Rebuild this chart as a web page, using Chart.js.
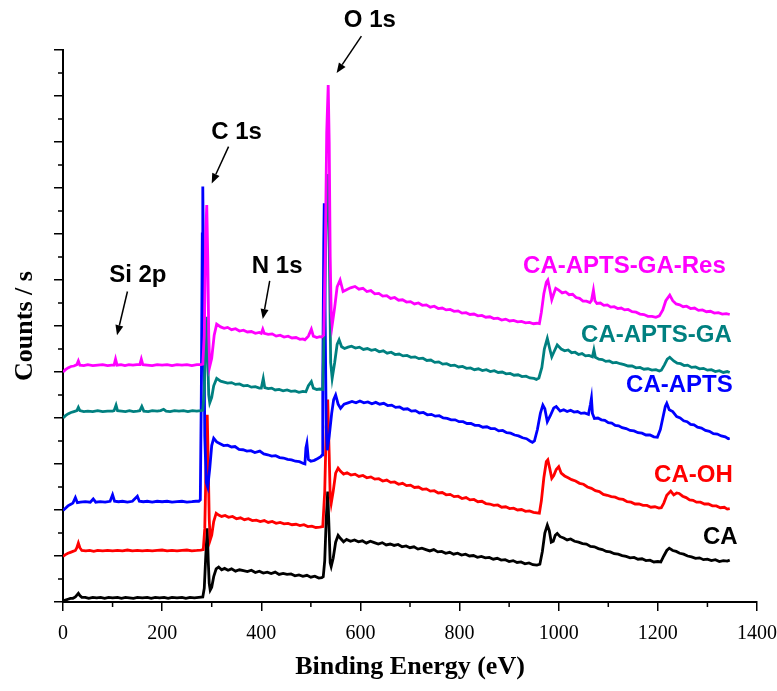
<!DOCTYPE html>
<html>
<head>
<meta charset="utf-8">
<script src="https://cdn.jsdelivr.net/npm/chart.js@4.4.1/dist/chart.umd.min.js"></script>
<style>
  html, body { margin: 0; padding: 0; background: #fff; }
  #wrap { width: 777px; height: 691px; }
</style>
</head>
<body>
<div id="wrap"><canvas id="xpsChart" width="777" height="691"></canvas></div>
<script>
// binding energy (eV), counts in arbitrary offset units (one major tick = 1)
const caData = [
  [0,0.02],[5,0.04],[10,0.06],[15,0.08],[20,0.08],[25,0.11],[28,0.15],[31,0.19],[34,0.14],[38,0.10],
  [45,0.10],[52,0.08],[60,0.10],[68,0.09],[76,0.10],[84,0.08],[92,0.10],[100,0.09],[110,0.10],[118,0.08],
  [126,0.10],[134,0.09],[142,0.08],[150,0.10],[160,0.09],[170,0.10],[178,0.08],[186,0.10],[195,0.09],
  [204,0.10],[212,0.08],[220,0.10],[230,0.09],[240,0.10],[248,0.08],[256,0.10],[265,0.09],[274,0.10],[282,0.11],
  [285,0.3],[288,1.0],[291,1.6],[293,0.9],[295,0.4],[297,0.26],[300,0.32],[304,0.55],[309,0.72],[314,0.76],
  [320,0.70],[326,0.73],[333,0.69],[340,0.72],[348,0.67],[356,0.70],[364,0.68],[372,0.66],[380,0.69],
  [388,0.64],[396,0.67],[404,0.63],[412,0.65],[420,0.62],[428,0.65],[436,0.60],[444,0.62],[452,0.60],
  [460,0.61],[468,0.57],[476,0.59],[484,0.56],[492,0.58],[500,0.54],[508,0.56],[516,0.52],[522,0.53],[525,0.55],
  [528,0.9],[531,1.8],[534,2.4],[537,1.5],[539,0.85],[541,0.77],[545,0.95],[550,1.3],[555,1.45],[560,1.38],
  [566,1.31],[572,1.36],[580,1.32],[588,1.35],[596,1.31],[604,1.33],[612,1.28],[620,1.32],[628,1.29],
  [636,1.26],[644,1.29],[652,1.24],[660,1.26],[668,1.23],[676,1.25],[684,1.20],[692,1.22],[700,1.18],
  [708,1.20],[716,1.15],[724,1.17],[732,1.14],[740,1.11],[748,1.14],[756,1.09],[764,1.10],[772,1.06],
  [780,1.08],[788,1.04],[796,1.06],[804,1.02],[812,1.04],[820,1.00],[828,1.01],[836,0.97],[844,0.99],
  [852,0.96],[860,0.97],[868,0.93],[876,0.95],[884,0.91],[892,0.92],[900,0.88],[908,0.90],[916,0.86],
  [924,0.87],[932,0.83],[940,0.85],[948,0.81],[956,0.80],[962,0.82],
  [967,1.1],[972,1.5],[977,1.67],[981,1.55],[985,1.30],[989,1.32],[993,1.45],[997,1.49],[1003,1.42],
  [1010,1.39],[1017,1.35],[1024,1.37],[1032,1.32],[1040,1.30],[1048,1.27],[1056,1.26],[1064,1.21],
  [1072,1.20],[1080,1.16],[1088,1.14],[1096,1.10],[1104,1.09],[1112,1.05],[1120,1.04],[1128,1.01],
  [1136,0.99],[1144,0.96],[1152,0.97],[1160,0.93],[1168,0.94],[1176,0.90],[1184,0.91],[1192,0.87],
  [1200,0.88],[1206,0.87],
  [1212,1.0],[1218,1.12],[1223,1.17],[1230,1.12],[1237,1.10],[1244,1.06],[1252,1.04],[1260,1.00],
  [1268,0.98],[1276,0.95],[1284,0.96],[1292,0.92],[1300,0.93],[1308,0.90],[1316,0.92],[1324,0.88],
  [1332,0.90],[1340,0.89],[1345,0.91]
];

const caOhData = [
  [0,0.99],[5,1.03],[10,1.06],[15,1.08],[20,1.10],[25,1.12],[28,1.18],[31,1.28],[34,1.18],[38,1.12],
  [46,1.11],[54,1.12],[62,1.10],[70,1.12],[80,1.11],[90,1.12],[100,1.11],[110,1.12],[120,1.11],[130,1.13],
  [140,1.11],[150,1.12],[160,1.11],[170,1.12],[180,1.11],[190,1.12],[200,1.13],[210,1.11],[220,1.12],
  [230,1.11],[240,1.12],[250,1.13],[260,1.11],[270,1.12],[278,1.13],[283,1.14],
  [286,1.6],[289,3.2],[291,4.07],[293,3.0],[295,1.8],[297,1.35],[300,1.45],[304,1.75],[309,1.93],[314,1.89],
  [320,1.86],[327,1.88],[334,1.84],[342,1.86],[350,1.81],[358,1.83],[366,1.79],[374,1.81],[382,1.77],
  [390,1.78],[398,1.75],[406,1.77],[414,1.73],[422,1.75],[430,1.71],[438,1.73],[446,1.70],[454,1.71],
  [462,1.68],[470,1.69],[478,1.66],[486,1.68],[494,1.64],[502,1.65],[510,1.62],[518,1.63],[524,1.64],
  [528,2.4],[531,3.8],[534,4.4],[537,3.2],[539,2.3],[541,2.14],[545,2.4],[550,2.8],[555,2.91],[560,2.84],
  [566,2.78],[573,2.81],[581,2.76],[589,2.78],[597,2.73],[605,2.75],[613,2.70],[621,2.72],[629,2.67],
  [637,2.68],[645,2.63],[653,2.65],[661,2.60],[669,2.61],[677,2.56],[685,2.58],[693,2.53],[701,2.54],
  [709,2.49],[717,2.50],[725,2.45],[733,2.46],[741,2.41],[749,2.42],[757,2.37],[765,2.38],[773,2.33],
  [781,2.34],[789,2.29],[797,2.30],[805,2.25],[813,2.27],[821,2.22],[829,2.23],[837,2.18],[845,2.19],
  [853,2.14],[861,2.13],[869,2.10],[877,2.11],[885,2.06],[893,2.07],[901,2.03],[909,2.04],[917,2.00],
  [925,2.01],[933,1.97],[941,1.98],[949,1.95],[956,1.94],[961,1.93],
  [965,2.2],[970,2.7],[975,3.05],[978,3.09],[982,2.9],[986,2.69],[990,2.75],[995,2.88],[1000,2.94],
  [1005,2.80],[1012,2.74],[1019,2.70],[1026,2.66],[1034,2.63],[1042,2.58],[1050,2.56],[1058,2.50],
  [1066,2.47],[1074,2.42],[1082,2.40],[1090,2.34],[1098,2.32],[1106,2.29],[1114,2.28],[1122,2.24],
  [1130,2.23],[1138,2.18],[1146,2.17],[1154,2.13],[1162,2.13],[1170,2.10],[1178,2.10],[1186,2.06],
  [1194,2.07],[1202,2.04],[1207,2.05],
  [1212,2.15],[1218,2.32],[1226,2.41],[1232,2.33],[1238,2.37],[1243,2.36],[1250,2.30],[1257,2.27],
  [1264,2.22],[1271,2.21],[1278,2.17],[1286,2.17],[1294,2.13],[1302,2.13],[1310,2.09],[1318,2.09],
  [1326,2.05],[1334,2.06],[1340,2.02],[1345,2.03]
];

const caAptsData = [
  [0,1.99],[5,2.04],[10,2.09],[15,2.12],[20,2.15],[25,2.27],[29,2.16],[35,2.17],[45,2.18],[55,2.17],
  [61,2.24],[66,2.17],[75,2.18],[85,2.17],[95,2.19],[100,2.33],[104,2.19],[112,2.18],[120,2.19],[130,2.17],
  [140,2.19],[150,2.30],[154,2.19],[162,2.18],[170,2.19],[180,2.17],[190,2.19],[200,2.18],[210,2.19],
  [220,2.17],[230,2.18],[240,2.19],[250,2.17],[260,2.18],[268,2.19],[274,2.19],[277,2.22],
  [279,4.5],[281,8.0],[282,9.03],[284,6.5],[286,3.6],[289,2.6],[292,2.5],[296,2.9],[300,3.4],[304,3.56],
  [310,3.48],[317,3.44],[324,3.40],[332,3.41],[340,3.37],[347,3.38],[355,3.32],[363,3.31],[371,3.28],
  [379,3.29],[387,3.25],[397,3.28],[405,3.22],[413,3.20],[421,3.17],[429,3.18],[437,3.14],[445,3.13],
  [453,3.10],[461,3.09],[469,3.06],[477,3.05],[485,3.01],[488,3.0],[490,3.35],[492,3.45],[495,3.1],
  [500,3.06],[507,3.08],[514,3.12],[520,3.16],[523,3.2],
  [524,4.8],[526,7.8],[527,8.67],[529,6.0],[531,3.8],[533,3.3],[537,3.6],[542,4.1],[546,4.4],[550,4.5],
  [555,4.3],[560,4.21],[567,4.30],[575,4.33],[583,4.36],[591,4.33],[599,4.37],[607,4.33],[615,4.35],
  [623,4.31],[631,4.34],[639,4.30],[647,4.32],[655,4.27],[663,4.28],[671,4.23],[679,4.24],[687,4.19],
  [695,4.20],[703,4.15],[711,4.16],[719,4.11],[727,4.12],[735,4.07],[743,4.08],[751,4.04],[759,4.05],
  [767,4.00],[775,3.99],[783,3.96],[791,3.96],[799,3.92],[807,3.92],[815,3.88],[823,3.88],[831,3.84],
  [839,3.84],[847,3.80],[855,3.81],[863,3.77],[871,3.77],[879,3.72],[887,3.73],[895,3.68],[903,3.67],
  [911,3.63],[919,3.61],[927,3.57],[935,3.55],[942,3.50],[947,3.47],[951,3.50],
  [957,3.75],[963,4.1],[968,4.28],[972,4.20],[977,3.92],[983,4.05],[990,4.22],[995,4.25],[1003,4.15],
  [1010,4.18],[1017,4.14],[1024,4.17],[1031,4.13],[1038,4.14],[1045,4.10],[1052,4.11],[1060,4.08],
  [1064,4.3],[1066,4.43],[1068,4.1],[1072,3.99],[1079,4.00],[1086,3.96],[1093,3.95],[1100,3.90],
  [1107,3.89],[1114,3.84],[1121,3.83],[1128,3.79],[1136,3.77],[1144,3.73],[1152,3.72],[1160,3.68],
  [1168,3.67],[1176,3.63],[1184,3.63],[1192,3.59],[1199,3.58],
  [1205,3.75],[1210,4.0],[1215,4.25],[1218,4.32],[1223,4.18],[1230,4.14],[1238,4.03],[1245,4.00],
  [1252,3.94],[1259,3.92],[1266,3.86],[1273,3.85],[1280,3.80],[1288,3.78],[1296,3.73],[1304,3.71],
  [1312,3.66],[1320,3.65],[1328,3.61],[1336,3.59],[1342,3.55],[1345,3.56]
];

const caAptsGaData = [
  [0,4.0],[5,4.05],[10,4.09],[16,4.12],[22,4.14],[28,4.16],[31,4.23],[34,4.16],[42,4.14],[50,4.15],
  [60,4.14],[70,4.16],[80,4.14],[90,4.15],[100,4.15],[103,4.16],[107,4.28],[110,4.16],[118,4.15],
  [126,4.14],[134,4.16],[142,4.14],[150,4.15],[155,4.16],[159,4.25],[163,4.15],[172,4.14],[180,4.16],
  [190,4.15],[197,4.16],[203,4.19],[208,4.15],[216,4.14],[225,4.16],[234,4.15],[243,4.16],[252,4.14],
  [261,4.16],[270,4.15],[278,4.16],[282,4.17],
  [285,4.6],[288,5.8],[290,6.2],[292,5.3],[294,4.5],[296,4.33],[300,4.45],[304,4.7],[310,4.86],[318,4.80],
  [325,4.78],[332,4.76],[340,4.77],[348,4.73],[356,4.74],[364,4.70],[372,4.71],[380,4.67],[388,4.68],
  [396,4.65],[400,4.65],[404,4.86],[407,4.66],[414,4.64],[421,4.65],[428,4.61],[436,4.62],[444,4.59],
  [452,4.61],[460,4.58],[468,4.59],[476,4.56],[484,4.58],[490,4.57],[495,4.70],[501,4.79],[505,4.65],
  [512,4.62],[518,4.63],[524,4.62],
  [528,6.5],[531,8.5],[535,9.3],[538,7.0],[540,5.2],[543,4.86],[548,5.2],[553,5.6],[557,5.70],[562,5.55],
  [568,5.51],[575,5.54],[582,5.56],[590,5.52],[598,5.54],[606,5.49],[614,5.51],[622,5.47],[630,5.49],
  [638,5.44],[646,5.46],[654,5.41],[662,5.43],[670,5.38],[678,5.39],[686,5.35],[694,5.36],[702,5.32],
  [710,5.33],[718,5.29],[726,5.30],[734,5.25],[742,5.26],[750,5.21],[758,5.22],[766,5.17],[774,5.18],
  [782,5.14],[790,5.15],[798,5.11],[806,5.12],[814,5.08],[822,5.09],[830,5.05],[838,5.07],[846,5.03],
  [854,5.05],[862,5.01],[870,5.03],[878,4.99],[886,5.00],[894,4.96],[902,4.97],[910,4.93],[918,4.94],
  [926,4.90],[934,4.91],[942,4.87],[950,4.86],[955,4.84],[960,4.87],
  [966,5.1],[971,5.5],[977,5.73],[982,5.5],[986,5.33],[991,5.45],[997,5.59],[1005,5.50],[1012,5.46],
  [1019,5.48],[1026,5.42],[1033,5.43],[1040,5.38],[1047,5.40],[1054,5.35],[1061,5.36],[1068,5.33],
  [1071,5.48],[1074,5.32],[1081,5.28],[1088,5.27],[1095,5.23],[1102,5.24],[1109,5.20],[1116,5.21],
  [1124,5.18],[1132,5.16],[1140,5.13],[1148,5.13],[1156,5.09],[1164,5.10],[1172,5.06],[1180,5.07],
  [1188,5.04],[1196,5.05],[1203,5.02],[1207,5.04],
  [1213,5.15],[1219,5.28],[1224,5.32],[1232,5.24],[1239,5.19],[1246,5.18],[1253,5.14],[1260,5.15],
  [1268,5.10],[1276,5.11],[1284,5.07],[1292,5.08],[1300,5.04],[1308,5.05],[1316,5.01],[1324,5.03],
  [1332,4.99],[1340,5.01],[1345,4.99]
];

const caAptsGaResData = [
  [0,5.0],[5,5.05],[10,5.09],[16,5.12],[22,5.13],[28,5.16],[31,5.24],[34,5.15],[42,5.14],[50,5.16],
  [60,5.14],[70,5.15],[80,5.16],[90,5.14],[98,5.15],[103,5.15],[106,5.28],[109,5.15],[117,5.16],
  [125,5.14],[133,5.16],[141,5.15],[149,5.16],[155,5.16],[158,5.28],[161,5.16],[170,5.15],[180,5.14],
  [190,5.16],[200,5.15],[210,5.16],[220,5.14],[230,5.16],[240,5.15],[250,5.16],[260,5.14],[270,5.16],
  [278,5.16],[282,5.17],
  [285,5.8],[288,8.0],[290,8.63],[292,7.5],[294,5.8],[296,5.12],[300,5.3],[305,5.8],[310,6.04],[318,5.98],
  [325,5.95],[332,5.97],[340,5.92],[348,5.94],[356,5.89],[364,5.91],[372,5.87],[380,5.88],[388,5.84],
  [396,5.86],[400,5.84],[403,5.93],[406,5.84],[414,5.82],[422,5.83],[430,5.78],[438,5.80],[446,5.76],
  [454,5.78],[462,5.74],[470,5.75],[478,5.71],[484,5.72],[488,5.70],[495,5.78],[501,5.93],[505,5.78],
  [512,5.75],[518,5.77],[522,5.76],[526,5.8],
  [529,7.5],[532,10.2],[535,11.24],[537,10.0],[539,7.5],[541,6.3],[543,6.02],[548,6.4],[553,6.85],
  [559,7.0],[565,6.75],[572,6.79],[580,6.83],[589,6.86],[597,6.80],[605,6.82],[613,6.75],[621,6.77],
  [629,6.70],[637,6.71],[645,6.65],[653,6.66],[661,6.60],[669,6.62],[677,6.56],[685,6.57],[693,6.52],
  [701,6.53],[709,6.48],[717,6.50],[725,6.45],[733,6.46],[741,6.41],[749,6.43],[757,6.38],[765,6.39],
  [773,6.35],[781,6.36],[789,6.32],[797,6.33],[805,6.28],[813,6.29],[821,6.25],[829,6.26],[837,6.22],
  [845,6.23],[853,6.19],[861,6.20],[869,6.16],[877,6.17],[885,6.13],[893,6.15],[901,6.11],[909,6.12],
  [917,6.09],[925,6.10],[933,6.07],[941,6.08],[949,6.05],[956,6.06],[961,6.05],
  [965,6.3],[970,6.7],[975,6.95],[978,7.0],[982,6.8],[986,6.57],[990,6.7],[994,6.82],[1000,6.78],
  [1007,6.72],[1014,6.74],[1021,6.68],[1028,6.69],[1035,6.62],[1042,6.60],[1049,6.54],[1056,6.54],
  [1063,6.51],[1066,6.55],[1070,6.78],[1073,6.55],[1077,6.49],[1084,6.50],[1091,6.45],[1098,6.46],
  [1105,6.41],[1112,6.42],[1119,6.38],[1126,6.39],[1133,6.35],[1140,6.36],[1148,6.31],[1156,6.30],
  [1164,6.26],[1172,6.25],[1180,6.21],[1188,6.21],[1196,6.19],[1203,6.22],
  [1210,6.35],[1216,6.55],[1224,6.67],[1230,6.55],[1237,6.48],[1244,6.46],[1251,6.42],[1258,6.43],
  [1266,6.38],[1274,6.39],[1282,6.34],[1290,6.35],[1298,6.31],[1306,6.32],[1314,6.28],[1322,6.29],
  [1330,6.26],[1338,6.27],[1345,6.25]
];

const seriesNames = ['CA-APTS-GA-Res', 'CA-APTS-GA', 'CA-APTS', 'CA-OH', 'CA'];
const seriesColors = ['#ff00ff', '#008080', '#0000ff', '#ff0000', '#000000'];
const seriesData = [caAptsGaResData, caAptsGaData, caAptsData, caOhData, caData];

const xTicks = [0, 200, 400, 600, 800, 1000, 1200, 1400];

// peak annotations: text anchor and arrow, in data units (eV, counts)
const peakNotes = [
  { text: 'Si 2p', at: [151, 7.1],  from: [130, 6.75], to: [109, 5.8] },
  { text: 'C 1s',  at: [350, 10.22], from: [334, 9.9], to: [300, 9.1] },
  { text: 'N 1s',  at: [432, 7.3],  from: [417, 6.98], to: [403, 6.15] },
  { text: 'O 1s',  at: [619, 12.65], from: [602, 12.3], to: [552, 11.5] }
];
// series labels: right edge of text, in data units
const seriesLabelPos = [[1337, 7.3], [1349, 5.8], [1351, 4.7], [1351, 2.76], [1361, 1.41]];

const annotatePlugin = {
  id: 'annotate',
  afterDatasetsDraw(chart) {
    const { ctx, scales: { x, y } } = chart;
    ctx.save();
    ctx.font = 'bold 24px "Liberation Sans", Arial, sans-serif';
    ctx.textBaseline = 'middle';
    ctx.textAlign = 'center';
    ctx.fillStyle = '#000';
    ctx.strokeStyle = '#000';
    ctx.lineWidth = 1.5;
    peakNotes.forEach(n => {
      ctx.fillText(n.text, x.getPixelForValue(n.at[0]), y.getPixelForValue(n.at[1]));
      const x1 = x.getPixelForValue(n.from[0]), y1 = y.getPixelForValue(n.from[1]);
      const x2 = x.getPixelForValue(n.to[0]), y2 = y.getPixelForValue(n.to[1]);
      const ang = Math.atan2(y2 - y1, x2 - x1);
      const hl = 10, hw = 4;
      const bx = x2 - hl * Math.cos(ang), by = y2 - hl * Math.sin(ang);
      ctx.beginPath();
      ctx.moveTo(x1, y1);
      ctx.lineTo(bx, by);
      ctx.stroke();
      ctx.beginPath();
      ctx.moveTo(x2, y2);
      ctx.lineTo(bx + hw * Math.sin(ang), by - hw * Math.cos(ang));
      ctx.lineTo(bx - hw * Math.sin(ang), by + hw * Math.cos(ang));
      ctx.closePath();
      ctx.fill();
    });
    ctx.textAlign = 'right';
    seriesNames.forEach((name, i) => {
      ctx.fillStyle = seriesColors[i];
      const p = seriesLabelPos[i];
      ctx.fillText(name, x.getPixelForValue(p[0]), y.getPixelForValue(p[1]));
    });
    ctx.restore();
  }
};

// short minor ticks half way between the major ones
const minorTicksPlugin = {
  id: 'minorTicks',
  afterDraw(chart) {
    const { ctx, scales: { x, y } } = chart;
    ctx.save();
    ctx.strokeStyle = '#000';
    ctx.lineWidth = 1.5;
    ctx.beginPath();
    for (let v = 100; v < 1400; v += 200) {
      const px = x.getPixelForValue(v);
      ctx.moveTo(px, x.top);
      ctx.lineTo(px, x.top + 5);
    }
    for (let v = 0.5; v < 12; v += 1) {
      const py = y.getPixelForValue(v);
      ctx.moveTo(y.right, py);
      ctx.lineTo(y.right - 5, py);
    }
    ctx.stroke();
    ctx.restore();
  }
};

const ctx = document.getElementById('xpsChart').getContext('2d');
new Chart(ctx, {
  type: 'line',
  data: {
    datasets: seriesNames.map((name, i) => ({
      label: name,
      data: seriesData[i].map(p => ({ x: p[0], y: p[1] })),
      borderColor: seriesColors[i],
      backgroundColor: seriesColors[i],
      borderWidth: 2.8,
      pointRadius: 0,
      tension: 0,
      fill: false
    }))
  },
  options: {
    responsive: false,
    animation: false,
    layout: { padding: { left: 0, top: 50, right: 20, bottom: 0 } },
    plugins: {
      legend: { display: false },
      tooltip: { enabled: false }
    },
    scales: {
      x: {
        type: 'linear',
        min: 0,
        max: 1400,
        afterBuildTicks: scale => { scale.ticks = xTicks.map(v => ({ value: v })); },
        afterFit: scale => { scale.height = 89; scale.paddingLeft = 0; scale.paddingRight = 0; },
        ticks: {
          color: '#000',
          padding: 11,
          maxRotation: 0,
          callback: v => String(v),
          font: { family: '"Liberation Serif", "Times New Roman", serif', size: 20 }
        },
        grid: { drawOnChartArea: false, drawTicks: true, tickLength: 9, color: '#000', lineWidth: 1.5 },
        border: { display: true, color: '#000', width: 2 },
        title: {
          display: true,
          text: 'Binding Energy (eV)',
          color: '#000',
          padding: { top: 0, bottom: 8 },
          font: { family: '"Liberation Serif", "Times New Roman", serif', size: 26, weight: 'bold' }
        }
      },
      y: {
        min: 0,
        max: 12,
        afterFit: scale => { scale.width = 63; },
        ticks: { display: false, stepSize: 1 },
        grid: { drawOnChartArea: false, drawTicks: true, tickLength: 9, color: '#000', lineWidth: 1.5 },
        border: { display: true, color: '#000', width: 2 },
        title: {
          display: true,
          text: 'Counts / s',
          color: '#000',
          padding: { top: 10, bottom: 0 },
          font: { family: '"Liberation Serif", "Times New Roman", serif', size: 26, weight: 'bold' }
        }
      }
    }
  },
  plugins: [annotatePlugin, minorTicksPlugin]
});
</script>
</body>
</html>
